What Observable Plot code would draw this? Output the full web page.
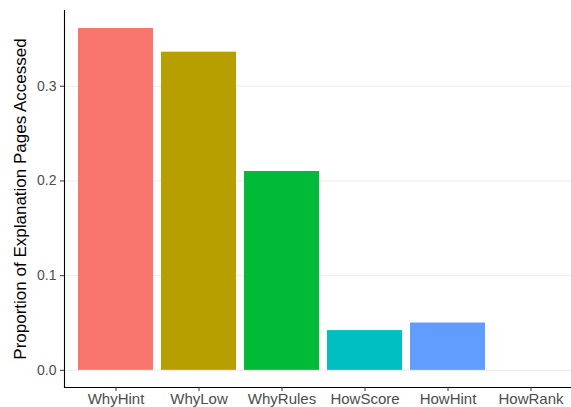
<!DOCTYPE html>
<html>
<head>
<meta charset="utf-8">
<script src="https://cdn.jsdelivr.net/npm/d3@7"></script>
<script src="https://cdn.jsdelivr.net/npm/@observablehq/plot@0.6"></script>
<style>
  html, body { margin: 0; padding: 0; background: #fff; }
  svg { display: block; }
</style>
</head>
<body>
<div id="chart"></div>
<script>
const categories = ["WhyHint", "WhyLow", "WhyRules", "HowScore", "HowHint", "HowRank"];
const proportions = [0.361, 0.336, 0.210, 0.042, 0.050, 0.000];
const colors = ["#F8766D", "#B79F00", "#00BA38", "#00BFC4", "#619CFF", "#F564E3"];
const yTicks = [0.0, 0.1, 0.2, 0.3];
const yTitle = "Proportion of Explanation Pages Accessed";

const data = categories.map((c, i) => ({category: c, value: proportions[i]}));

const W = 571, H = 407;
const mL = 64, mT = 10, mB = 20;

const chart = Plot.plot({
  width: W,
  height: H,
  marginLeft: mL,
  marginTop: mT,
  marginBottom: mB,
  marginRight: 0,
  style: {fontFamily: "Liberation Sans, Arial, sans-serif", background: "#fff"},
  x: {
    type: "band",
    domain: categories,
    range: [mL, 581],
    paddingInner: 0.1,
    paddingOuter: 0.15
  },
  y: {
    domain: [-0.0181, 0.380],
    range: [H - mB, mT]
  },
  color: {domain: categories, range: colors},
  marks: [
    Plot.gridY(yTicks, {stroke: "#ebebeb", strokeOpacity: 1, strokeWidth: 1}),
    Plot.barY(data, {x: "category", y1: 0, y2: "value", fill: "category", stroke: "none"}),
    Plot.frame({anchor: "left", stroke: "#000", strokeWidth: 1.1}),
    Plot.frame({anchor: "bottom", stroke: "#000", strokeWidth: 1.1}),
    Plot.axisY(yTicks, {
      tickFormat: d3.format(".1f"),
      tickSize: 4,
      tickPadding: 4,
      fontSize: 14,
      color: "#4d4d4d",
      stroke: "#333",
      label: null
    }),
    Plot.axisX({
      tickSize: 4,
      tickPadding: 2,
      fontSize: 15,
      color: "#4d4d4d",
      stroke: "#333",
      label: null
    }),
    Plot.text([yTitle], {
      frameAnchor: "left",
      textAnchor: "middle",
      lineAnchor: "middle",
      dx: -44,
      rotate: -90,
      fontSize: 17,
      fill: "#000",
      text: d => d
    })
  ]
});

document.getElementById("chart").appendChild(chart);
</script>
</body>
</html>
